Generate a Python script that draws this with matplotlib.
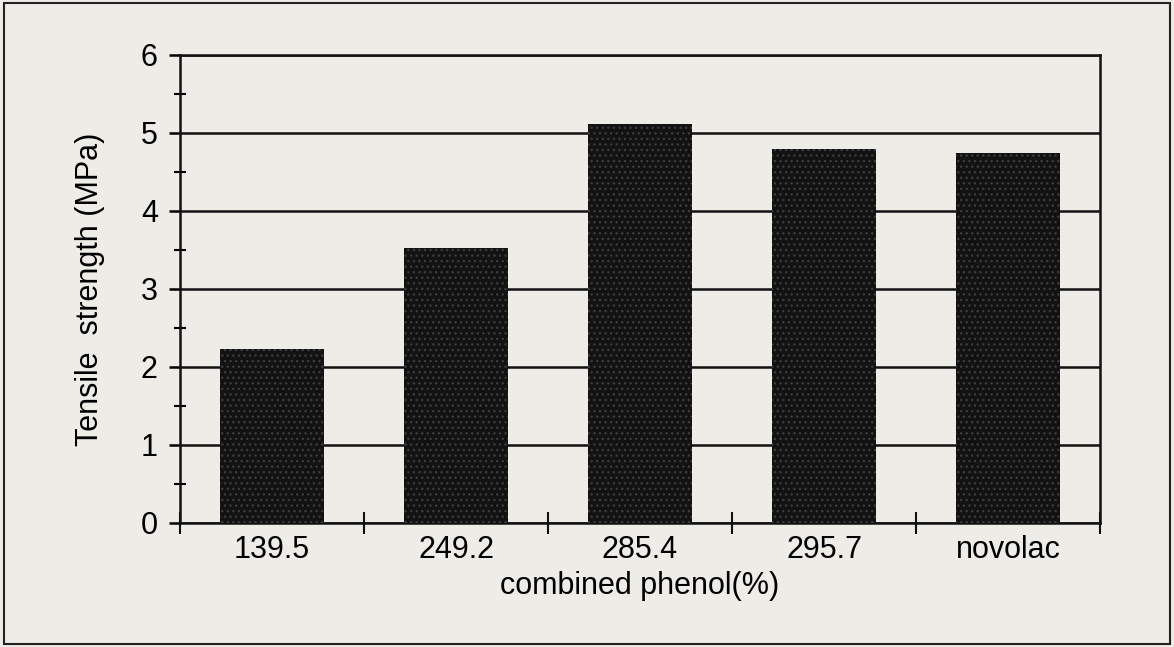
import matplotlib.pyplot as plt
from matplotlib.patches import Rectangle
from matplotlib.ticker import MultipleLocator

plt.rcParams['font.family'] = ['Liberation Sans', 'DejaVu Sans']
plt.rcParams['hatch.linewidth'] = 1.0

categories = ['139.5', '249.2', '285.4', '295.7', 'novolac']
strength = [2.23, 3.52, 5.11, 4.80, 4.74]

bg = '#eeece7'
fig = plt.figure(figsize=(11.74, 6.47), dpi=100, facecolor=bg)
ax = fig.add_axes([180 / 1174, 1 - 522.7 / 647, 920 / 1174, 467.7 / 647])
ax.set_facecolor(bg)

# Outer frame around the whole figure
fig.patches.append(Rectangle((0.003, 0.005), 0.994, 0.99, transform=fig.transFigure,
                             fill=False, edgecolor='#222222', linewidth=1.5))

# Dark bars with a faint dotted texture (hatch takes the edge colour)
x = range(len(categories))
ax.bar(x, strength, width=0.56, color='#121212', edgecolor='#3c3c3c',
       hatch='...', linewidth=0, zorder=3)

ax.set_xlim(-0.5, len(categories) - 0.5)
ax.set_ylim(0, 6)
ax.yaxis.set_major_locator(MultipleLocator(1))
ax.yaxis.set_minor_locator(MultipleLocator(0.5))
ax.grid(axis='y', color='#111111', linewidth=1.8, zorder=1)

# Category labels in the middle, ticks on the boundaries between them
ax.set_xticks(list(x))
ax.set_xticklabels(categories)
ax.set_xticks([i + 0.5 for i in range(len(categories) - 1)] + [-0.5, len(categories) - 0.5], minor=True)
ax.tick_params(axis='x', which='major', length=0, labelsize=22, pad=9)
ax.tick_params(axis='x', which='minor', direction='inout', length=16, width=1.5, color='#111111')
ax.tick_params(axis='y', which='major', direction='out', length=8, width=1.8, labelsize=22, pad=8)
ax.tick_params(axis='y', which='minor', direction='inout', length=8, width=1.5)

for side in ['left', 'bottom', 'right', 'top']:
    ax.spines[side].set_linewidth(1.8)
    ax.spines[side].set_color('#111111')

ax.set_ylabel('Tensile  strength (MPa)', fontsize=22, labelpad=26)
ax.set_xlabel('combined phenol(%)', fontsize=22, labelpad=4)

plt.savefig('out.png', dpi=100, facecolor=bg)
